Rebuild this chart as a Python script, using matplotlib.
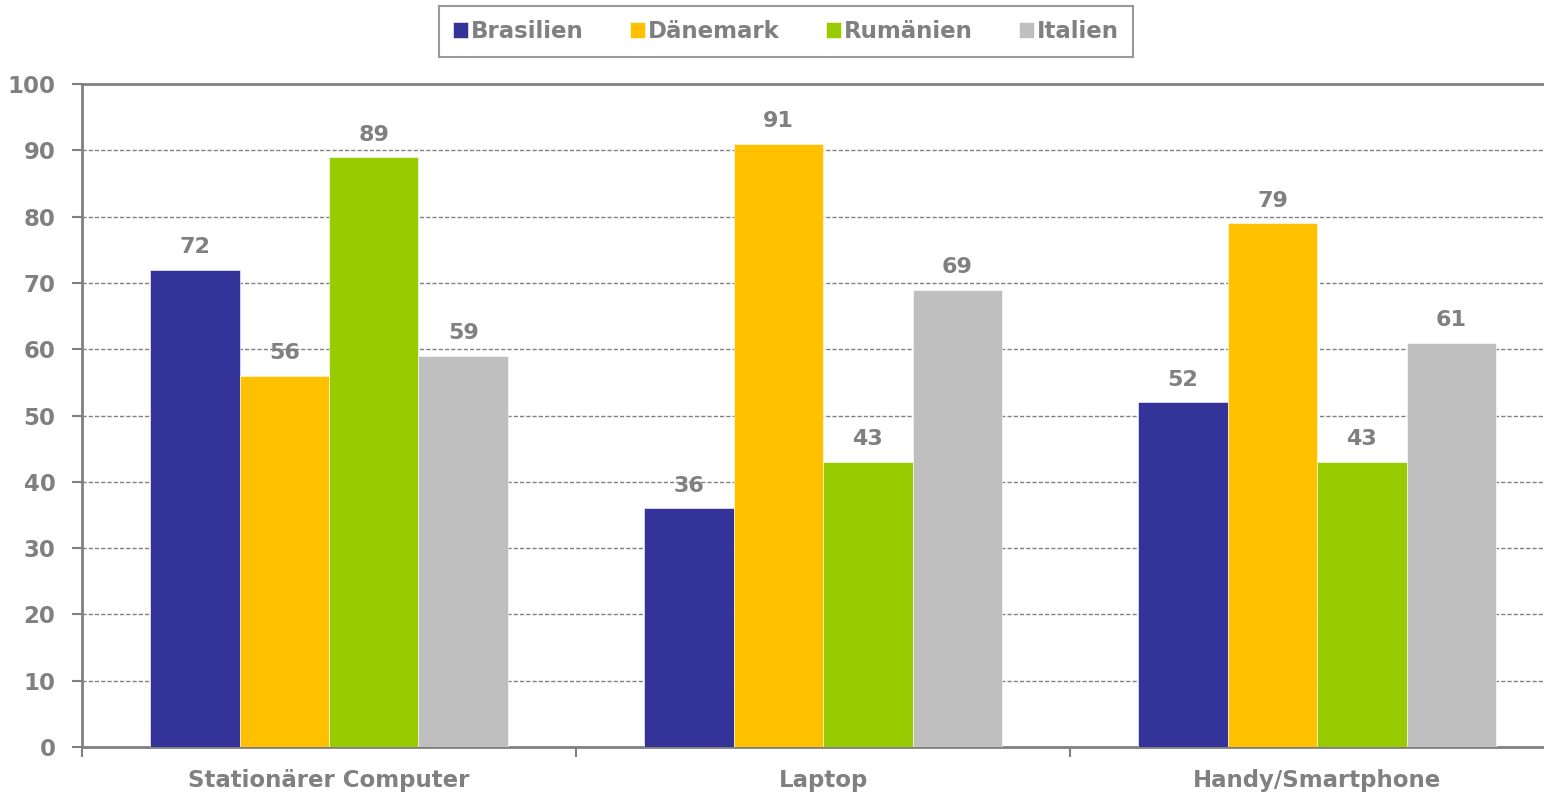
import numpy as np
import matplotlib.pyplot as plt

# Data ########################################################################

categories = ['Stationärer Computer', 'Laptop', 'Handy/Smartphone']
countries = ['Brasilien', 'Dänemark', 'Rumänien', 'Italien']
brasilien = [72, 36, 52]
daenemark = [56, 91, 79]
rumaenien = [89, 43, 43]
italien = [59, 69, 61]
colors = ['#333399', '#FFC000', '#99CC00', '#BFBFBF']

# Plot ########################################################################

grey = '#808080'
plt.rcParams['font.family'] = 'DejaVu Sans'
plt.rcParams['font.weight'] = 'bold'

fig = plt.figure(figsize=(15.44, 7.92), dpi=100)
ax = fig.add_axes([0.0531, 0.0568, 0.960, 0.837])

x = np.arange(len(categories))
w = 0.181
series = [brasilien, daenemark, rumaenien, italien]
for i, vals in enumerate(series):
    pos = x + (i - 1.5) * w
    bars = ax.bar(pos, vals, w, color=colors[i], label=countries[i],
                  edgecolor='white', linewidth=0.4, zorder=3)
    for b, v in zip(bars, vals):
        ax.annotate(str(v), (b.get_x() + b.get_width() / 2, v),
                    xytext=(0, 9), textcoords='offset points',
                    ha='center', va='bottom', color=grey,
                    fontsize=16, fontweight='bold')

ax.set_xlim(-0.5, 2.5)
ax.set_ylim(0, 100)
ax.set_yticks(np.arange(0, 101, 10))
ax.yaxis.grid(True, linestyle=(0, (3, 1.5)), color=grey, linewidth=1.0, zorder=0)

# category boundaries as ticks, labels centred under groups
ax.set_xticks([-0.5, 0.5, 1.5, 2.5])
ax.set_xticklabels([])
ax.set_xticks(x, minor=True)
ax.set_xticklabels(categories, minor=True)
ax.tick_params(axis='x', which='minor', length=0, pad=16)
ax.tick_params(axis='x', which='major', length=7, width=1.5, color=grey)
ax.tick_params(axis='y', length=7, width=1.5, color=grey, pad=12)
for lab in ax.get_xticklabels(minor=True) + ax.get_yticklabels():
    lab.set_color(grey)
    lab.set_fontsize(16.5)
    lab.set_fontweight('bold')

for s in ['left', 'bottom', 'top']:
    ax.spines[s].set_color(grey)
    ax.spines[s].set_linewidth(2)
ax.spines['right'].set_visible(False)

leg = fig.legend(loc='upper center', bbox_to_anchor=(0.509, 0.992), ncol=4,
                 frameon=True, fancybox=False, edgecolor=grey,
                 handlelength=0.65, handleheight=0.65, handletextpad=0.15,
                 columnspacing=2.0, borderpad=0.6, borderaxespad=0,
                 prop={'size': 16.5, 'weight': 'bold'})
leg.get_frame().set_linewidth(1.5)
for t in leg.get_texts():
    t.set_color(grey)

fig.savefig('out.png', dpi=100)
